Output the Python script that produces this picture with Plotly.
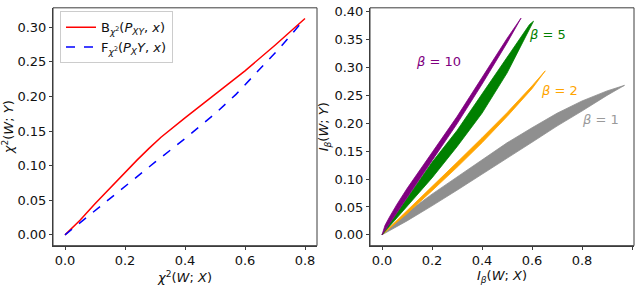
import plotly.graph_objects as go

# ---- Left panel data ----
b_x = [0.0, 0.05, 0.10, 0.15, 0.20, 0.24, 0.28, 0.32, 0.40, 0.50, 0.60, 0.70, 0.80]
b_y = [0.0, 0.021, 0.045, 0.068, 0.091, 0.108, 0.125, 0.141, 0.169, 0.203, 0.237, 0.274, 0.3125]
f_x = [0.0, 0.10, 0.20, 0.30, 0.40, 0.50, 0.57, 0.65, 0.72, 0.80]
f_y = [0.0, 0.035, 0.071, 0.105, 0.139, 0.175, 0.203, 0.240, 0.272, 0.3125]

# ---- Right panel data (upper / lower edges of each band) ----
g1_x = [0.0, 0.1, 0.2, 0.3, 0.4, 0.5, 0.6, 0.7, 0.8, 0.9, 0.97]
g1_up = [0.0, 0.040, 0.073, 0.104, 0.135, 0.165, 0.192, 0.218, 0.240, 0.258, 0.268]
g1_lo = [0.0, 0.025, 0.052, 0.080, 0.108, 0.137, 0.166, 0.195, 0.222, 0.250, 0.268]

g2_x = [0.0, 0.1, 0.2, 0.3, 0.4, 0.5, 0.6, 0.653]
g2_up = [0.0, 0.043, 0.087, 0.130, 0.174, 0.219, 0.267, 0.294]
g2_lo = [0.0, 0.038, 0.079, 0.121, 0.165, 0.212, 0.262, 0.294]

g5_xu = [0.0, 0.05, 0.1, 0.2, 0.3, 0.4, 0.5, 0.59, 0.606]
g5_up = [0.0, 0.033, 0.066, 0.130, 0.187, 0.252, 0.318, 0.377, 0.383]
g5_xl = [0.0, 0.05, 0.1, 0.2, 0.3, 0.4, 0.5, 0.606]
g5_lo = [0.0, 0.026, 0.052, 0.102, 0.158, 0.218, 0.290, 0.383]

g10_xu = [0.0, 0.012, 0.03, 0.06, 0.1, 0.2, 0.3, 0.4, 0.5, 0.556]
g10_up = [0.0, 0.017, 0.032, 0.055, 0.083, 0.148, 0.212, 0.282, 0.352, 0.3885]
g10_xl = [0.0, 0.05, 0.1, 0.2, 0.3, 0.4, 0.5, 0.556]
g10_lo = [0.0, 0.032, 0.066, 0.133, 0.199, 0.270, 0.344, 0.3885]

beta_labels = ["<i>β</i> = 1", "<i>β</i> = 2", "<i>β</i> = 5", "<i>β</i> = 10"]
label_x = [0.872, 0.711, 0.661, 0.227]
label_y = [0.206, 0.258, 0.359, 0.310]
band_colors = ["#8f8f8f", "orange", "green", "purple"]
label_colors = ["#9a9a9a", "orange", "green", "purple"]

FONT = "DejaVu Sans"
AX = "#3c3c3c"
TOP = 5.0      # px from top of figure to top of axes box
BOT = 251.5    # px from top of figure to bottom of axes box

fig = go.Figure()

fig.add_trace(go.Scatter(
    x=b_x, y=b_y, mode="lines", line=dict(color="red", width=1.5),
    name="B<sub><i>χ</i><sup>2</sup></sub>(<i>P</i><sub><i>XY</i></sub>, <i>x</i>)",
    xaxis="x", yaxis="y"))
fig.add_trace(go.Scatter(
    x=f_x, y=f_y, mode="lines", line=dict(color="blue", width=1.5, dash="dash"),
    name="F<sub><i>χ</i><sup>2</sup></sub>(<i>P</i><sub><i>X</i></sub><i>Y</i>, <i>x</i>)",
    xaxis="x", yaxis="y"))

bands = [
    (g1_x, g1_up, g1_x, g1_lo),
    (g2_x, g2_up, g2_x, g2_lo),
    (g5_xu, g5_up, g5_xl, g5_lo),
    (g10_xu, g10_up, g10_xl, g10_lo),
]
for (xu, yu, xl, yl), c in zip(bands, band_colors):
    fig.add_trace(go.Scatter(
        x=list(xu) + list(xl)[::-1], y=list(yu) + list(yl)[::-1],
        mode="lines", fill="toself", fillcolor=c,
        line=dict(color=c, width=0.8), showlegend=False,
        hoverinfo="skip", xaxis="x2", yaxis="y2"))

for t, lx, ly, c in zip(beta_labels, label_x, label_y, label_colors):
    fig.add_annotation(x=lx, y=ly, xref="x2", yref="y2", text=t,
                       showarrow=False, font=dict(size=13, color=c, family=FONT))

# axes frames
for xr, yr in (("x domain", "y domain"), ("x2 domain", "y2 domain")):
    fig.add_shape(type="rect", xref=xr, yref=yr, x0=0, x1=1, y0=0, y1=1,
                  line=dict(color=AX, width=1), fillcolor="rgba(0,0,0,0)", layer="above")

axis_common = dict(showline=True, mirror=False, linecolor=AX, linewidth=1,
                   ticks="outside", ticklen=3, tickcolor=AX, showgrid=False,
                   zeroline=False, tickfont=dict(size=13, color="#111", family=FONT))

ydom = [1 - BOT/285, 1 - TOP/285]

fig.update_layout(
    width=640, height=285,
    margin=dict(l=0, r=0, t=0, b=0),
    paper_bgcolor="white", plot_bgcolor="white",
    font=dict(family=FONT, size=13, color="#111"),
    xaxis=dict(domain=[53/640, 317/640], range=[-0.04, 0.84], tickvals=[0, 0.2, 0.4, 0.6, 0.8],
               tickformat=".1f", anchor="y",
               title=dict(text="<i>χ</i><sup>2</sup>(<i>W</i>; <i>X</i>)", standoff=8,
                          font=dict(size=13)), **axis_common),
    yaxis=dict(domain=ydom, range=[-0.0156, 0.328],
               tickvals=[0, 0.05, 0.10, 0.15, 0.20, 0.25, 0.30], tickformat=".2f", anchor="x",
               title=dict(text="<i>χ</i><sup>2</sup>(<i>W</i>; <i>Y</i>)", standoff=4,
                          font=dict(size=13)), **axis_common),
    xaxis2=dict(domain=[370/640, 634/640], range=[-0.048, 1.008],
                tickvals=[0, 0.2, 0.4, 0.6, 0.8, 1.0], tickformat=".1f", anchor="y2",
                title=dict(text="<i>I</i><sub><i>β</i></sub>(<i>W</i>; <i>X</i>)", standoff=8,
                           font=dict(size=13)), **axis_common),
    yaxis2=dict(domain=ydom, range=[-0.0194, 0.407],
                tickvals=[0, 0.05, 0.10, 0.15, 0.20, 0.25, 0.30, 0.35, 0.40], tickformat=".2f",
                anchor="x2",
                title=dict(text="<i>I</i><sub><i>β</i></sub>(<i>W</i>; <i>Y</i>)", standoff=2,
                           font=dict(size=13)), **axis_common),
    legend=dict(x=60/640, y=1-8.5/285, xanchor="left", yanchor="top",
                bgcolor="white", bordercolor="#cccccc", borderwidth=1,
                font=dict(size=13, family=FONT, color="#111"), itemwidth=30,
                tracegroupgap=0),
    showlegend=True,
)

fig.write_html("out.html", config={"displayModeBar": False},
               post_script="document.body.style.margin='0';document.body.style.overflow='hidden';")
